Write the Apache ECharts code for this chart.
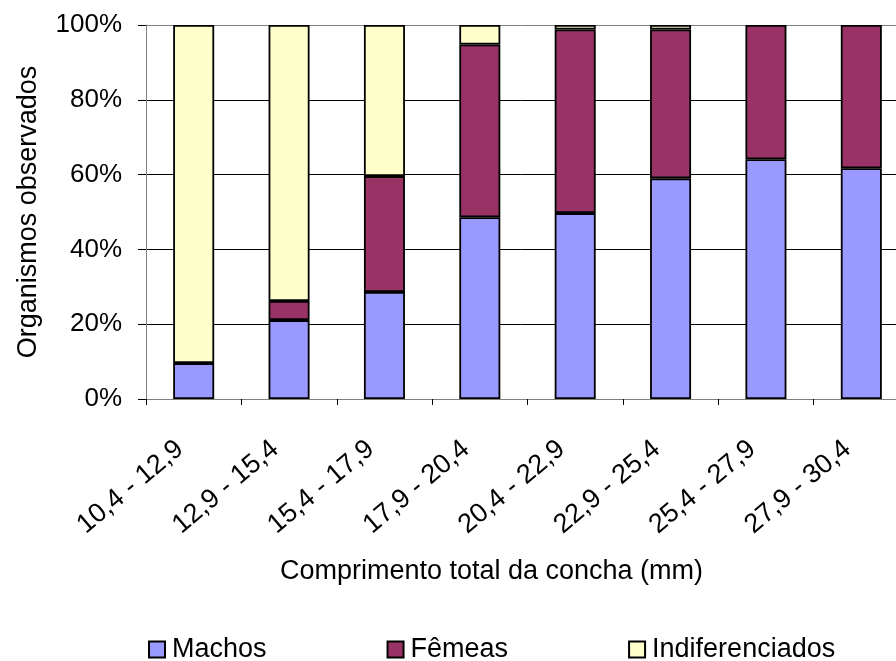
<!DOCTYPE html>
<html>
<head>
<meta charset="utf-8">
<script src="https://cdn.jsdelivr.net/npm/echarts@6/dist/echarts.min.js"></script>
<style>
  html, body { margin: 0; padding: 0; background: #fff; }
  #chart { width: 896px; height: 661px; }
</style>
</head>
<body>
<div id="chart"></div>
<script>
// Shell length classes (mm)
const categories = ['10,4 - 12,9', '12,9 - 15,4', '15,4 - 17,9', '17,9 - 20,4',
                    '20,4 - 22,9', '22,9 - 25,4', '25,4 - 27,9', '27,9 - 30,4'];

// Share of observed organisms per class (%)
const machos = [9.6, 21.1, 28.6, 48.6, 49.7, 59.0, 64.1, 61.7];
const femeas = [0, 5.1, 31.0, 46.2, 49.1, 39.8, 35.9, 38.3];
const indiferenciados = [90.4, 73.8, 40.4, 5.2, 1.2, 1.2, 0, 0];

const yTicks = [0, 20, 40, 60, 80, 100];

const FONT = 'Liberation Sans, Arial, sans-serif';

function toSeries(values) {
  return values.map(v => (v === 0 ? '-' : v));
}

function barSeries(name, values, color) {
  return {
    name: name,
    type: 'bar',
    stack: 'total',
    barWidth: 41,
    data: toSeries(values),
    itemStyle: { color: color, borderColor: '#000', borderWidth: 1.8 },
    emphasis: { disabled: true }
  };
}

const chart = echarts.init(document.getElementById('chart'), null, { renderer: 'canvas' });

chart.setOption({
  animation: false,
  backgroundColor: '#fff',
  textStyle: { fontFamily: FONT, color: '#000' },
  grid: { left: 146, right: -13, top: 25, bottom: 262, containLabel: false, outerBoundsMode: 'none' },
  legend: {
    top: 636,
    left: 148,
    padding: 0,
    itemWidth: 16,
    itemHeight: 16,
    itemGap: 120,
    icon: 'rect',
    textStyle: { fontSize: 27, fontFamily: FONT, color: '#000', padding: [0, 0, 0, 2] },
    data: ['Machos', 'Fêmeas', 'Indiferenciados']
  },
  xAxis: {
    type: 'category',
    data: categories,
    name: 'Comprimento total da concha (mm)',
    nameLocation: 'middle',
    nameGap: 159,
    nameTextStyle: { fontSize: 27, fontFamily: FONT, color: '#000', padding: [0, 72, 0, 0] },
    axisLine: { show: true, lineStyle: { color: '#808080', width: 1 } },
    axisTick: { show: true, length: 6, lineStyle: { color: '#000' } },
    axisLabel: {
      rotate: 40, fontSize: 27, fontFamily: FONT, color: '#000',
      margin: 35, padding: [0, 18, 0, 0], interval: 0
    },
    splitLine: { show: false }
  },
  yAxis: {
    type: 'value',
    min: yTicks[0],
    max: yTicks[yTicks.length - 1],
    interval: 20,
    name: 'Organismos observados',
    nameLocation: 'middle',
    nameGap: 104,
    nameTextStyle: { fontSize: 27, fontFamily: FONT, color: '#000' },
    axisLine: { show: true, lineStyle: { color: '#808080', width: 1 } },
    axisTick: { show: true, length: 8, lineStyle: { color: '#000' } },
    axisLabel: { formatter: '{value}%', fontSize: 26, fontFamily: FONT, color: '#000', margin: 24 },
    splitLine: {
      show: true,
      lineStyle: { color: ['#808080', '#000', '#000', '#000', '#000', '#808080'], width: 1 }
    }
  },
  series: [
    barSeries('Machos', machos, '#9999FF'),
    barSeries('Fêmeas', femeas, '#993366'),
    barSeries('Indiferenciados', indiferenciados, '#FFFFCC')
  ]
});
</script>
</body>
</html>
